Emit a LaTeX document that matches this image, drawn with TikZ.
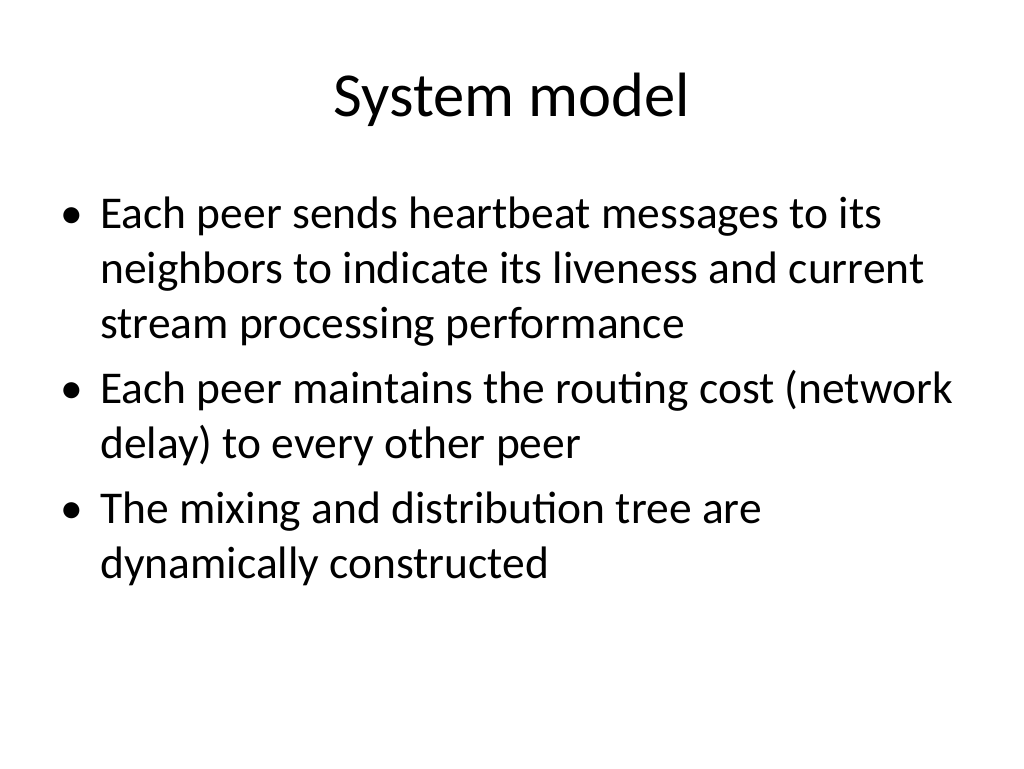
\documentclass[tikz,border=0pt]{standalone}
\usepackage{fontspec}
\setmainfont{Carlito}
\begin{document}
\begin{tikzpicture}[x=1pt,y=1pt,
  body/.style={anchor=base west,inner sep=0pt,font=\fontsize{45.5}{55}\selectfont},
  bul/.style={anchor=base west,inner sep=0pt,font=\fontsize{45.5}{55}\selectfont}]
\useasboundingbox[fill=white] (0,0) rectangle (1024,768);
\node[anchor=base,inner sep=0pt,font=\fontsize{62.6}{70}\selectfont] (title) at (512,768-117) {System model};
\node[bul] (b1) at (60,768-229) {•};
\node[body] (l1) at (100,768-229) {Each peer sends heartbeat messages to its};
\node[body] (l2) at (100,768-284) {neighbors to indicate its liveness and current};
\node[body] (l3) at (100,768-339) {stream processing performance};
\node[bul] (b2) at (60,768-404) {•};
\node[body] (l4) at (100,768-404) {Each peer maintains the routing cost (network};
\node[body] (l5) at (100,768-459) {delay) to every other peer};
\node[bul] (b3) at (60,768-524) {•};
\node[body] (l6) at (100,768-524) {The mixing and distribution tree are};
\node[body] (l7) at (100,768-579) {dynamically constructed};
\end{tikzpicture}
\end{document}
